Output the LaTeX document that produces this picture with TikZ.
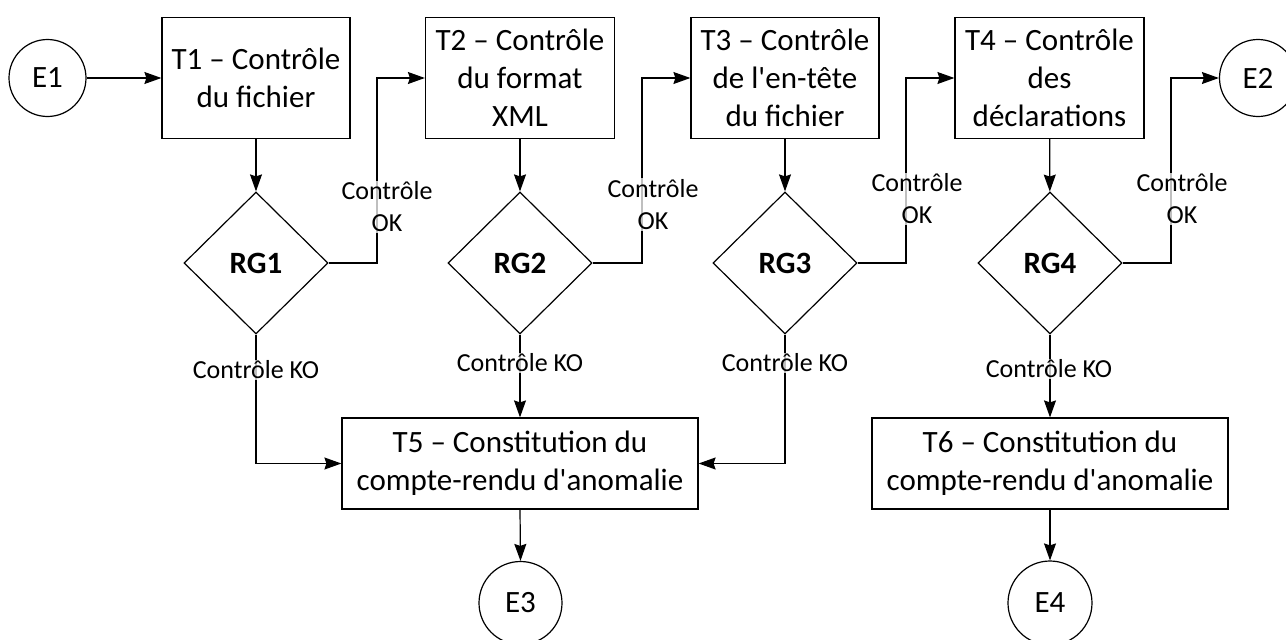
\documentclass[tikz,border=0pt]{standalone}
\usepackage{fontspec}
\setmainfont{Carlito}[Ligatures=TeXOff]
\usetikzlibrary{shapes.geometric,arrows.meta}
\begin{document}
\begin{tikzpicture}[x=1pt,y=-1pt,
  line width=1.2pt,
  arr/.style={-{Stealth[length=17pt,width=12pt,inset=2pt]}},
  proc/.style={draw,rectangle,align=center,inner sep=0pt,font=\fontsize{31}{38}\selectfont},
  endpt/.style={draw,circle,inner sep=0pt,font=\fontsize{31}{38}\selectfont},
  dec/.style={draw,diamond,inner sep=0pt,minimum width=144pt,minimum height=142pt,font=\bfseries\fontsize{31}{38}\selectfont},
  lbl/.style={fill=white,fill opacity=0.75,text opacity=1,inner sep=1pt,align=center,font=\fontsize{26}{32}\selectfont}
]
\useasboundingbox (0,0) rectangle (1286,640);

% top row
\node[endpt,minimum size=77pt] (E1) at (47.5,78) {E1};
\node[proc,minimum width=188pt,minimum height=121pt] (T1) at (256,78) {T1 – Contrôle\\du fichier};
\node[proc,minimum width=189pt,minimum height=121pt] (T2) at (520,78) {T2 – Contrôle\\du format\\XML};
\node[proc,minimum width=188pt,minimum height=121pt] (T3) at (785,78) {T3 – Contrôle\\de l'en-tête\\du fichier};
\node[proc,minimum width=189pt,minimum height=121pt] (T4) at (1049.5,78) {T4 – Contrôle\\des\\déclarations};
\node[endpt,minimum size=77pt] (E2) at (1258,78) {E2};

% decisions
\node[dec] (RG1) at (256,263) {RG1};
\node[dec] (RG2) at (520,263) {RG2};
\node[dec] (RG3) at (785,263) {RG3};
\node[dec] (RG4) at (1050,263) {RG4};

% bottom
\node[proc,minimum width=356pt,minimum height=91pt] (T5) at (520,463.5) {T5 – Constitution du\\compte-rendu d'anomalie};
\node[proc,minimum width=356pt,minimum height=91pt] (T6) at (1050,463.5) {T6 – Constitution du\\compte-rendu d'anomalie};
\node[endpt,minimum size=83pt] (E3) at (520.5,603) {E3};
\node[endpt,minimum size=84pt] (E4) at (1050,603) {E4};

% bend coordinates for OK paths
\coordinate (c1) at (377,78);
\coordinate (c2) at (642,78);
\coordinate (c3) at (906,78);
\coordinate (c4) at (1171,78);

% connectors
\draw[arr] (E1) -- (T1);
\draw[arr] (T1) -- (RG1);
\draw[arr] (T2) -- (RG2);
\draw[arr] (T3) -- (RG3);
\draw[arr] (T4) -- (RG4);

\draw[arr] (RG1.east) -| (c1) -- (T2.west);
\draw[arr] (RG2.east) -| (c2) -- (T3.west);
\draw[arr] (RG3.east) -| (c3) -- (T4.west);
\draw[arr] (RG4.east) -| (c4) -- (E2.west);

\draw[arr] (RG1.south) |- (T5.west);
\draw[arr] (RG2.south) -- (T5.north);
\draw[arr] (RG3.south) |- (T5.east);
\draw[arr] (RG4.south) -- (T6.north);

\draw[arr] (T5.south) -- (E3.north);
\draw[arr] (T6.south) -- (E4.north);

% labels
\node[lbl] (ok1) at (387,207) {Contrôle\\OK};
\node[lbl] (ok2) at (653,204.5) {Contrôle\\OK};
\node[lbl] (ok3) at (917,199) {Contrôle\\OK};
\node[lbl] (ok4) at (1182,199) {Contrôle\\OK};

\node[lbl] (ko1) at (256,370) {Contrôle KO};
\node[lbl] (ko2) at (520,363) {Contrôle KO};
\node[lbl] (ko3) at (785,363) {Contrôle KO};
\node[lbl] (ko4) at (1049,369) {Contrôle KO};
\end{tikzpicture}
\end{document}
